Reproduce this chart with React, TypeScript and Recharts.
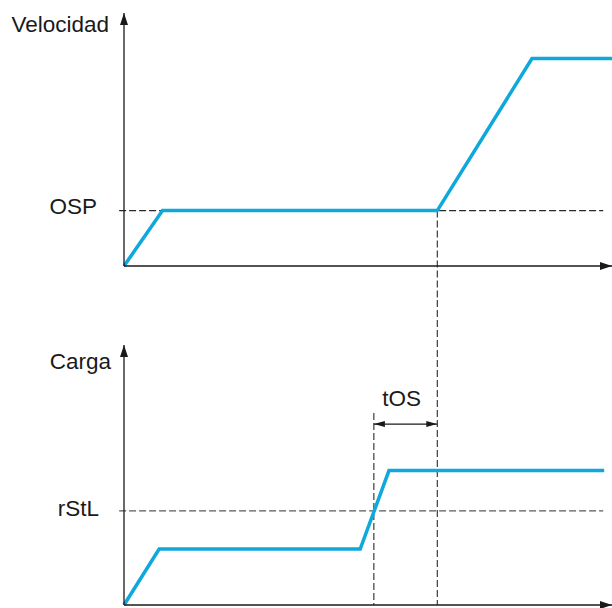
import { Label, Line, LineChart, ReferenceLine, XAxis, YAxis } from 'recharts';

// time runs 0..100 across the plot, each panel's level runs 0..100 up its axis
const speedTimes = [0, 7.9, 64.2, 83.6, 100];
const speedLevels = [0, 21.9, 21.9, 82, 82];
const loadTimes = [0, 7.2, 48.4, 54.3, 98.4];
const loadLevels = [0, 21.5, 21.5, 51.7, 51.7];

const ospLevel = 21.9;
const rstlLevel = 36.2;
const tosStart = 51.2;
const tosEnd = 64.2;
const tosArrowLevel = 69.6;
const tosGuideTop = 73.8;

const speedData = speedTimes.map((t, i) => ({ t, v: speedLevels[i] }));
const loadData = loadTimes.map((t, i) => ({ t, v: loadLevels[i] }));

const blue = '#0ea8dc';
const ink = '#1a1a1a';
const dash = '#2a2a2a';
const font = '"Liberation Sans", Arial, sans-serif';
const size = 22.5;

function Arrow({ id, len = 12, wide = 8 }: { id: string; len?: number; wide?: number }) {
  return (
    <marker id={id} viewBox={`0 0 ${len} ${wide}`} refX={len} refY={wide / 2} markerWidth={len} markerHeight={wide}
      markerUnits="userSpaceOnUse" orient="auto-start-reverse">
      <path d={`M0,0 L${len},${wide / 2} L0,${wide} z`} fill={ink}/>
    </marker>
  );
}

const levelTick = (text: string, dy: number) => ({ x, y }: any) => (
  <text x={x} y={y} dy={dy} textAnchor="end" fontFamily={font} fontSize={size} fill={ink}>{text}</text>
);

const title = (text: string, dx: number, dy: number) => ({ viewBox }: any) => (
  <text x={viewBox.x + viewBox.width - dx} y={viewBox.y + dy} textAnchor="end" fontFamily={font} fontSize={size} fill={ink}>{text}</text>
);

function TosShape(props: any) {
  const { x1, y1, x2, y2 } = props;
  return (
    <g>
      <line x1={x1} y1={y1} x2={x2} y2={y2} stroke={ink} strokeWidth={1.2} markerStart="url(#tosHead)" markerEnd="url(#tosHead)"/>
      <text x={(x1 + x2) / 2 - 4} y={y1 - 18} textAnchor="middle" fontFamily={font} fontSize={size} fill={ink}>tOS</text>
    </g>
  );
}

export default function App() {
  return (
    <div style={{ position: 'absolute', left: 0, top: 0, width: 612, height: 608, background: '#fff' }}>
      <LineChart width={612} height={300} margin={{ top: 13, right: 0, left: 0, bottom: 33 }}>
        <defs>
          <Arrow id="axisHeadTop"/>
        </defs>
        <XAxis dataKey="t" type="number" domain={[0, 100]} height={1} tick={false} tickLine={false}
          axisLine={{ stroke: ink, strokeWidth: 1.3, markerEnd: 'url(#axisHeadTop)' }}/>
        <YAxis type="number" domain={[0, 100]} width={124} ticks={[ospLevel]} interval={0} tickSize={0} tickMargin={27}
          tickLine={false} tick={levelTick('OSP', 3)}
          axisLine={{ stroke: ink, strokeWidth: 1.3, markerStart: 'url(#axisHeadTop)' }}>
          <Label content={title('Velocidad', 15, 19)}/>
        </YAxis>
        <ReferenceLine segment={[{ x: -1, y: ospLevel }, { x: 98.2, y: ospLevel }]} ifOverflow="visible"
          stroke={dash} strokeWidth={1.1} strokeDasharray="7 3"/>
        <ReferenceLine segment={[{ x: tosEnd, y: ospLevel }, { x: tosEnd, y: -13.4 }]} ifOverflow="visible"
          stroke={dash} strokeWidth={1.1} strokeDasharray="7 3"/>
        <Line data={speedData} dataKey="v" type="linear" stroke={blue} strokeWidth={3.5} strokeLinejoin="miter"
          dot={false} isAnimationActive={false}/>
      </LineChart>
      <LineChart width={612} height={308} margin={{ top: 45, right: 0, left: 0, bottom: 2 }}>
        <defs>
          <Arrow id="axisHeadBottom"/>
          <Arrow id="tosHead" len={11} wide={6}/>
        </defs>
        <XAxis dataKey="t" type="number" domain={[0, 100]} height={1} tick={false} tickLine={false}
          axisLine={{ stroke: ink, strokeWidth: 1.3, markerEnd: 'url(#axisHeadBottom)' }}/>
        <YAxis type="number" domain={[0, 100]} width={124} ticks={[rstlLevel]} interval={0} tickSize={0} tickMargin={25}
          tickLine={false} tick={levelTick('rStL', 5)}
          axisLine={{ stroke: ink, strokeWidth: 1.3, markerStart: 'url(#axisHeadBottom)' }}>
          <Label content={title('Carga', 13, 24)}/>
        </YAxis>
        <ReferenceLine segment={[{ x: -1, y: rstlLevel }, { x: 98.2, y: rstlLevel }]} ifOverflow="visible"
          stroke="#5a5a5a" strokeWidth={1.1} strokeDasharray="7 3"/>
        <ReferenceLine segment={[{ x: tosEnd, y: 117.3 }, { x: tosEnd, y: 0 }]} ifOverflow="visible"
          stroke={dash} strokeWidth={1.1} strokeDasharray="7 3"/>
        <ReferenceLine segment={[{ x: tosStart, y: tosGuideTop }, { x: tosStart, y: 0 }]} ifOverflow="visible"
          stroke={dash} strokeWidth={1.1} strokeDasharray="7 3"/>
        <ReferenceLine segment={[{ x: tosStart, y: tosArrowLevel }, { x: tosEnd, y: tosArrowLevel }]} ifOverflow="visible"
          shape={TosShape}/>
        <Line data={loadData} dataKey="v" type="linear" stroke={blue} strokeWidth={3.5} strokeLinejoin="miter"
          dot={false} isAnimationActive={false}/>
      </LineChart>
    </div>
  );
}
